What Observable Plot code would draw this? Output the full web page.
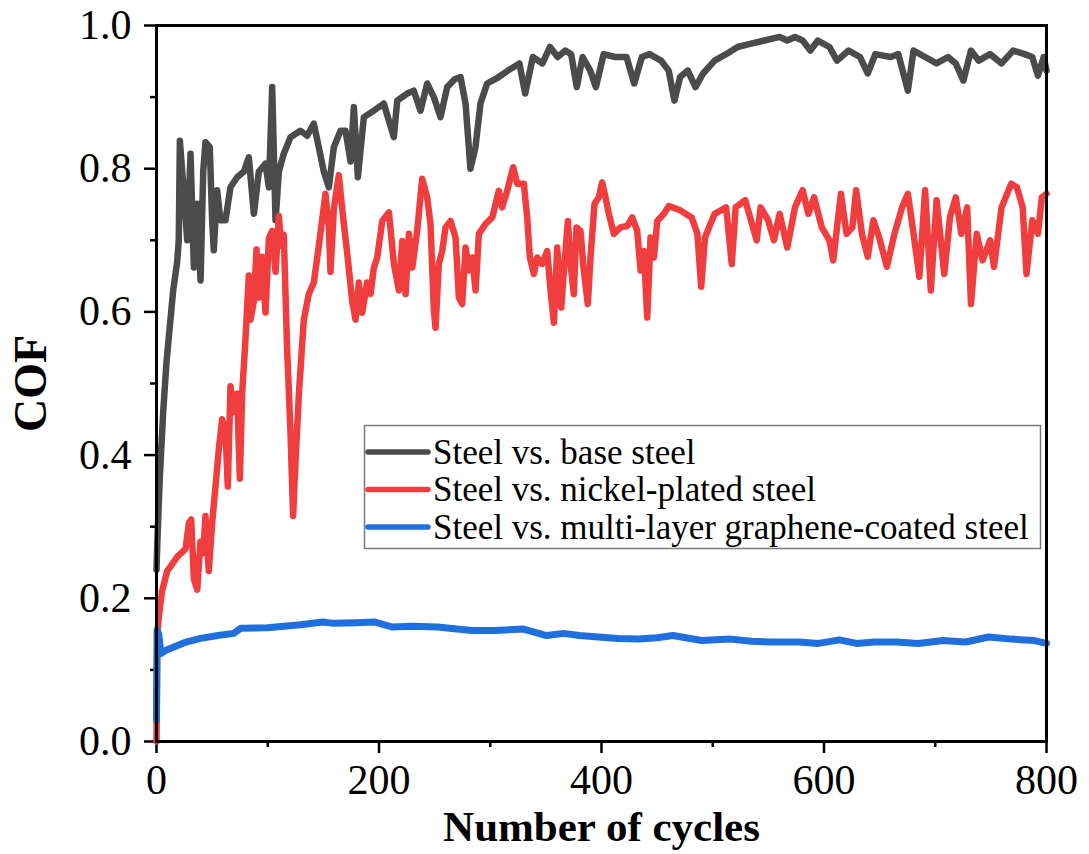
<!DOCTYPE html>
<html>
<head>
<meta charset="utf-8">
<script src="https://cdn.jsdelivr.net/npm/d3@7"></script>
<script src="https://cdn.jsdelivr.net/npm/@observablehq/plot@0.6"></script>
<style>
  body { margin: 0; background: #fff; }
  #chart { position: relative; width: 1089px; height: 854px; }
</style>
</head>
<body>
<div id="chart"></div>
<script>
// Friction coefficient (COF) against number of sliding cycles, three contact pairs.
const seriesNames = [
  "Steel vs. base steel",
  "Steel vs. nickel-plated steel",
  "Steel vs. multi-layer graphene-coated steel"
];
const seriesColors = ["#4b4b4b", "#f03d3d", "#1f6fde"];

const baseCycles = [0,1,3,6,9,12.6,15,18.6,20,21,24.6,27.6,30.6,33.6,36.6,39.6,42,44,47.9,50,51.5,54.5,57.5,62,66.5,72.5,78.5,83,87.5,92,98,101,104,107,110,114.4,120.4,129.4,135.4,141.4,145.9,150.4,154.9,159.4,165.4,169.9,174.4,177.4,181,186.4,195.3,204.3,213.3,216.4,225.3,231.3,237.3,243.3,249.3,255.3,261.3,268,273.3,277.8,282.2,286.7,291.2,297.2,305.6,315.9,326.2,331.4,338.3,346.9,353.7,360.6,367.5,372.7,377.8,383,389.9,395,401.9,412.2,422.5,429.4,436.3,443.2,453.5,460.4,465.5,470.7,477.6,484.5,491.3,501.7,512,522.3,532.6,546.4,560.1,567,573.9,580.8,587.7,594.5,604.9,611.7,622.1,632.4,639.3,646.1,659.9,666.8,675.4,680.5,690.9,701.2,711.5,718.4,725.3,732.1,739,749.3,759.6,770,780.3,787.2,792.3,797.5,800];
const baseCOF = [0.24,0.29,0.37,0.46,0.53,0.59,0.63,0.67,0.70,0.839,0.765,0.70,0.821,0.662,0.751,0.644,0.796,0.837,0.830,0.728,0.686,0.770,0.728,0.728,0.774,0.788,0.796,0.816,0.737,0.796,0.807,0.774,0.914,0.728,0.796,0.821,0.844,0.853,0.846,0.863,0.830,0.796,0.774,0.830,0.853,0.853,0.810,0.886,0.788,0.872,0.881,0.891,0.844,0.895,0.905,0.909,0.881,0.919,0.900,0.872,0.914,0.925,0.928,0.891,0.800,0.830,0.891,0.919,0.926,0.937,0.947,0.905,0.956,0.947,0.970,0.956,0.965,0.960,0.914,0.956,0.937,0.914,0.960,0.956,0.956,0.919,0.956,0.960,0.951,0.937,0.895,0.928,0.937,0.914,0.933,0.951,0.960,0.970,0.974,0.979,0.984,0.979,0.984,0.979,0.965,0.979,0.970,0.951,0.965,0.956,0.933,0.960,0.956,0.960,0.909,0.965,0.956,0.947,0.956,0.947,0.923,0.965,0.951,0.960,0.947,0.965,0.960,0.956,0.930,0.956,0.937];

const nickelCycles = [0,0.5,1,2.1,5,9.6,18.6,26.1,29.1,31.2,33.6,36.6,39.5,42,44,47,50,53,56,59,62,64.1,66.5,69.5,72.5,74.9,77,80,83,84.5,87.5,89.9,92,95,98,101,104,107,110,112,114.4,117.4,120.4,122.8,125,128,132.4,136.9,141.4,145.9,148.9,151.9,154.9,156.4,159.4,163.9,166.9,171.4,175.9,178.9,181.9,184.9,189.3,192.4,195.3,198.4,202.9,208.9,213.4,217.9,220.9,223.9,226.9,229.9,234.3,238.8,243.3,246.3,249.3,250.8,253.8,256.8,259.8,264.3,268.8,271.8,274.8,277.8,280.8,283.8,286.8,289.8,295.8,301.8,307.7,310.7,315.2,320.6,324.2,330.2,333.2,335.6,339.2,342.2,346.7,351.2,354.2,357.2,360.2,363.8,366.2,369.8,372.2,375.1,377.5,381.1,384.1,387.7,390.1,393.7,397.6,400.6,403.6,406.6,411.1,417.1,423.1,427.6,432.1,435.1,438.1,441.1,444.1,447.1,450.1,456.1,460.5,463.8,470.7,481,486.2,489.6,493,501.7,512,517.1,520.6,529.2,536.1,539.5,543,549.8,555,560.1,567,573.9,580.8,585.9,591.1,598,604.9,608.3,611.7,615.2,620.3,625.5,628.9,634.1,639.3,644.4,649.6,656.5,663.3,670.2,675.4,680.5,685.7,690.9,696,701.2,708.1,713.2,718.4,723.5,728.7,732.1,737.3,742.5,749.3,752.8,759.6,768.3,773.4,778.6,782,787.2,792.3,795.8,800];
const nickelCOF = [0,0.10,0.155,0.175,0.21,0.238,0.258,0.269,0.305,0.310,0.227,0.212,0.279,0.263,0.315,0.238,0.305,0.356,0.408,0.450,0.434,0.356,0.496,0.460,0.486,0.367,0.486,0.563,0.651,0.589,0.615,0.687,0.620,0.677,0.599,0.703,0.713,0.656,0.734,0.692,0.708,0.548,0.434,0.315,0.393,0.486,0.589,0.625,0.641,0.692,0.729,0.765,0.718,0.656,0.744,0.791,0.744,0.682,0.615,0.589,0.641,0.599,0.641,0.625,0.661,0.676,0.727,0.739,0.667,0.630,0.699,0.625,0.709,0.662,0.713,0.786,0.760,0.723,0.602,0.578,0.667,0.685,0.718,0.727,0.704,0.620,0.611,0.690,0.658,0.676,0.630,0.709,0.723,0.732,0.769,0.746,0.769,0.802,0.779,0.779,0.732,0.676,0.653,0.676,0.667,0.685,0.630,0.585,0.690,0.606,0.658,0.727,0.667,0.625,0.718,0.713,0.658,0.611,0.676,0.751,0.760,0.781,0.760,0.737,0.709,0.718,0.720,0.732,0.713,0.658,0.685,0.592,0.704,0.676,0.727,0.737,0.748,0.746,0.742,0.732,0.709,0.635,0.704,0.737,0.746,0.667,0.746,0.756,0.718,0.700,0.746,0.728,0.700,0.737,0.690,0.746,0.770,0.737,0.760,0.718,0.700,0.672,0.718,0.765,0.709,0.718,0.770,0.709,0.677,0.728,0.704,0.663,0.709,0.746,0.765,0.709,0.649,0.770,0.630,0.756,0.653,0.732,0.760,0.709,0.746,0.611,0.709,0.672,0.700,0.663,0.746,0.779,0.774,0.746,0.653,0.728,0.709,0.760,0.765];

const grapheneCycles = [0,0.5,2,4,8,15.6,25,39.6,55,69.4,75.5,99.5,129.4,149.4,159.4,180,195.6,211.3,230,252.6,270,283.6,304.2,330,350.7,366.1,380,397.1,415,433.2,450,464.2,490,515.8,535,551.9,577.7,595,613.8,629.3,645,665.4,685,706.7,727.3,748,768.6,789.2,800];
const grapheneCOF = [0.03,0.155,0.15,0.123,0.127,0.132,0.138,0.144,0.148,0.151,0.158,0.159,0.163,0.167,0.165,0.166,0.167,0.160,0.161,0.160,0.157,0.155,0.155,0.157,0.148,0.151,0.148,0.146,0.144,0.143,0.145,0.148,0.141,0.143,0.140,0.139,0.139,0.137,0.142,0.137,0.139,0.139,0.137,0.141,0.139,0.146,0.143,0.141,0.137];

const xTicks = [0, 200, 400, 600, 800];
const xMinorTicks = [100, 300, 500, 700];
const yTicks = [0, 0.2, 0.4, 0.6, 0.8, 1.0];
const yMinorTicks = [0.1, 0.3, 0.5, 0.7, 0.9];
const xLabel = "Number of cycles";
const yLabel = "COF";

// Long-format table for Plot
const seriesCycles = [baseCycles, nickelCycles, grapheneCycles];
const seriesCOF = [baseCOF, nickelCOF, grapheneCOF];
const table = seriesNames.flatMap((name, i) =>
  seriesCycles[i].map((c, j) => ({series: name, cycle: c, cof: seriesCOF[i][j]}))
);

const serif = '"Liberation Serif", "Times New Roman", serif';
const W = 1089, H = 854;
const M = {left: 156, right: 43, top: 25, bottom: 113};

const chart = Plot.plot({
  width: W,
  height: H,
  marginLeft: M.left,
  marginRight: M.right,
  marginTop: M.top,
  marginBottom: M.bottom,
  style: {fontFamily: serif, background: "#fff", color: "#000", overflow: "visible"},
  x: {domain: [0, 800]},
  y: {domain: [0, 1]},
  color: {domain: seriesNames, range: seriesColors},
  marks: [
    Plot.axisX({ticks: xMinorTicks, tickSize: 6, strokeWidth: 2.5, tickFormat: () => "", label: null}),
    Plot.axisX({ticks: xTicks, tickSize: 12, strokeWidth: 2.5, tickPadding: 11, fontSize: 42, tickFormat: d => String(d), label: null}),
    Plot.axisY({ticks: yMinorTicks, tickSize: 6, strokeWidth: 2.5, tickFormat: () => "", label: null}),
    Plot.axisY({ticks: yTicks, tickSize: 12, strokeWidth: 2.5, tickPadding: 13, fontSize: 42, tickFormat: d3.format(".1f"), label: null}),
    Plot.line(table, {
      x: "cycle", y: "cof", z: "series", stroke: "series",
      strokeWidth: d => d.series === seriesNames[2] ? 7 : 6.5,
      strokeLinejoin: "round", strokeLinecap: "round"
    }),
    Plot.frame({stroke: "#000", strokeWidth: 3}),
    Plot.text([xLabel], {
      frameAnchor: "bottom", lineAnchor: "bottom", textAnchor: "middle", dy: 99,
      fontSize: 43, fontWeight: "bold", fontFamily: serif, fill: "#000"
    }),
    Plot.text([yLabel], {
      frameAnchor: "left", lineAnchor: "bottom", textAnchor: "middle", rotate: -90, dx: -111, dy: 0,
      fontSize: 46, fontWeight: "bold", fontFamily: serif, fill: "#000"
    })
  ]
});

document.getElementById("chart").appendChild(chart);

// Legend box inside the plot area
const svg = d3.select(chart);
const lg = svg.append("g").attr("font-family", serif).attr("text-anchor", "start");
const box = {x: 364.5, y: 425.5, w: 676, h: 123};
lg.append("rect")
  .attr("x", box.x).attr("y", box.y).attr("width", box.w).attr("height", box.h)
  .attr("fill", "#fff").attr("stroke", "#7a7a7a").attr("stroke-width", 1.5);
seriesNames.forEach((name, i) => {
  const cy = 452 + i * 37.5;
  lg.append("line")
    .attr("x1", 368).attr("x2", 428).attr("y1", cy).attr("y2", cy)
    .attr("stroke", seriesColors[i]).attr("stroke-width", 5.5).attr("stroke-linecap", "round");
  lg.append("text")
    .attr("x", 433).attr("y", cy + 11.5)
    .attr("text-anchor", "start")
    .attr("font-size", 35).attr("fill", "#000")
    .text(name);
});
</script>
</body>
</html>
